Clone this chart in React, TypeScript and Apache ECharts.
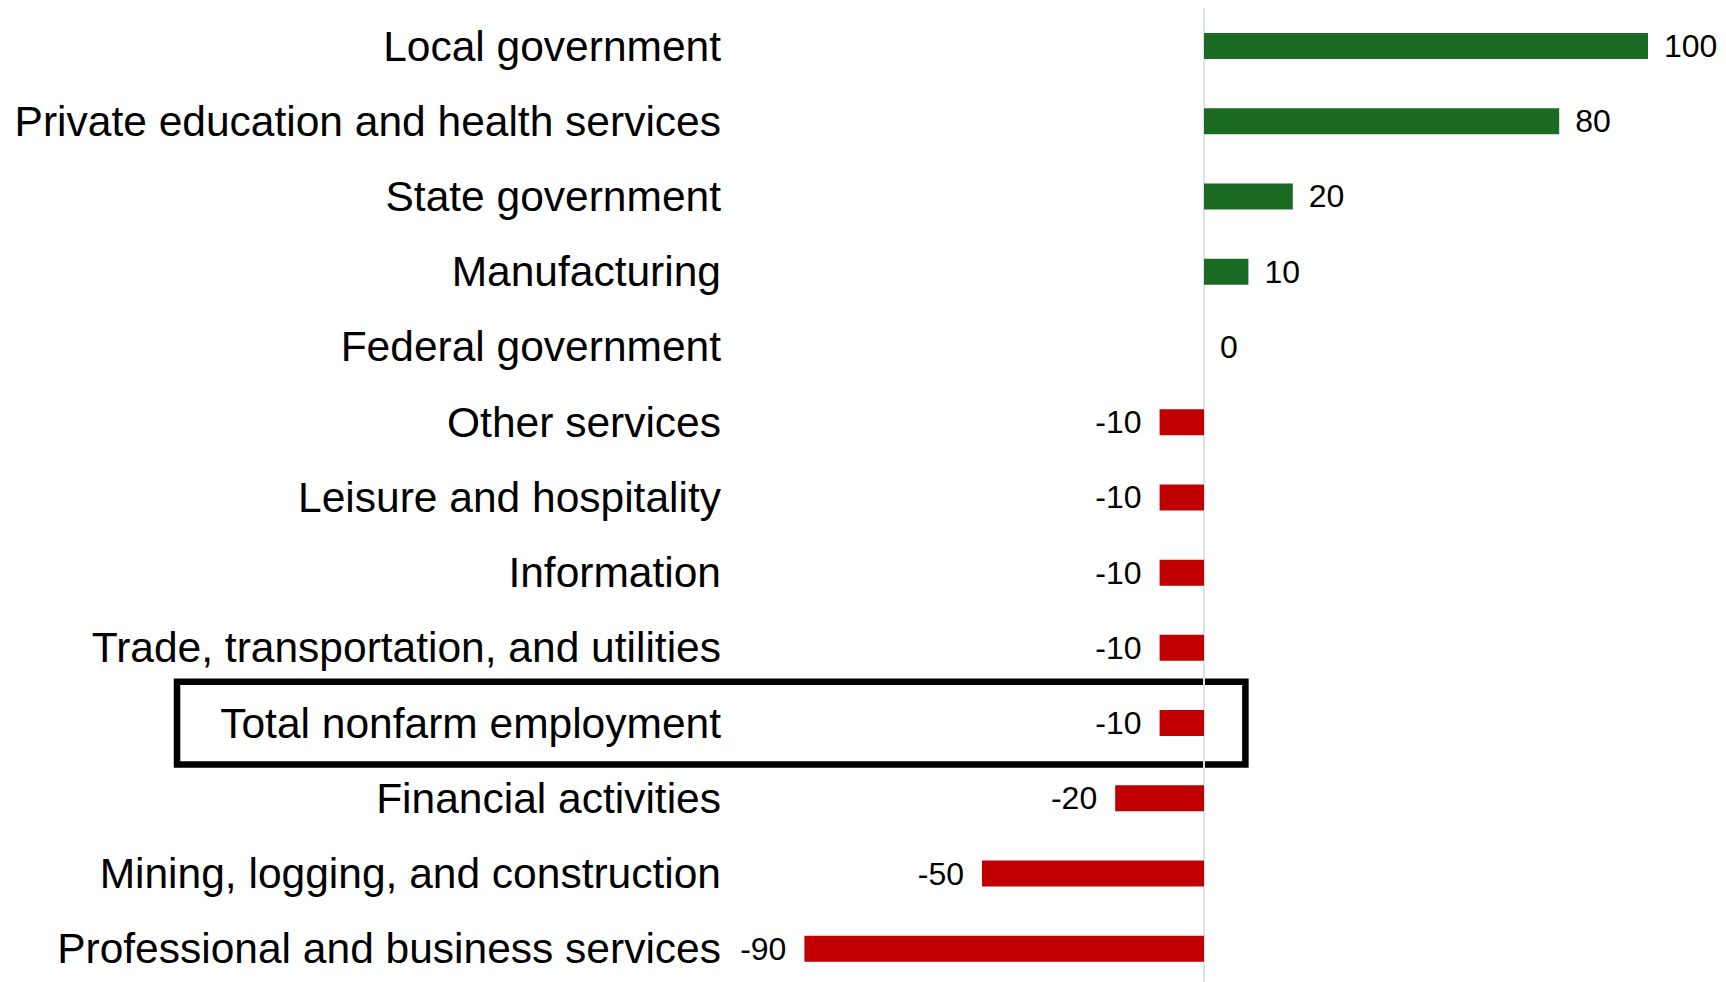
import React, { useEffect, useRef } from "react";
import * as echarts from "echarts";

const categories = [
  "Local government",
  "Private education and health services",
  "State government",
  "Manufacturing",
  "Federal government",
  "Other services",
  "Leisure and hospitality",
  "Information",
  "Trade, transportation, and utilities",
  "Total nonfarm employment",
  "Financial activities",
  "Mining, logging, and construction",
  "Professional and business services",
];
const values = [100, 80, 20, 10, 0, -10, -10, -10, -10, -10, -20, -50, -90];
const highlighted = "Total nonfarm employment";

const GREEN = "#1b6b25";
const RED = "#c00000";
const FONT = "'Liberation Sans', Arial, sans-serif";

export default function App() {
  const ref = useRef<HTMLDivElement>(null);
  useEffect(() => {
    if (!ref.current) return;
    const chart = echarts.init(ref.current, null, { renderer: "svg" });
    chart.setOption({
      animation: false,
      backgroundColor: "#ffffff",
      grid: { left: 760, right: 78, top: 8.4, height: 978, containLabel: false },
      xAxis: {
        type: "value",
        min: -100,
        max: 100,
        show: false,
        splitLine: { show: false },
      },
      yAxis: {
        type: "category",
        inverse: true,
        data: categories,
        axisLine: { show: true, onZero: true, lineStyle: { color: "#dde1ec", width: 2 } },
        axisTick: { show: false },
        axisLabel: {
          margin: 39,
          fontSize: 42.5,
          color: "#000",
          fontFamily: FONT,
        },
      },
      series: [
        {
          type: "bar",
          barWidth: 26,
          data: values.map((v) => ({
            value: v,
            itemStyle: { color: v >= 0 ? GREEN : RED },
            label: { position: v >= 0 ? "right" : "left", distance: v >= 0 ? 16 : 18 },
          })),
          label: {
            show: true,
            fontSize: 32,
            color: "#000",
            fontFamily: FONT,
          },
        },
      ],
    });
    const idx = categories.indexOf(highlighted);
    const center = chart.convertToPixel({ gridIndex: 0 }, [10, idx]) as number[];
    const top = chart.convertToPixel({ gridIndex: 0 }, [0, idx - 0.5]) as number[];
    const bot = chart.convertToPixel({ gridIndex: 0 }, [0, idx + 0.5]) as number[];
    const rowH = Math.abs(bot[1] - top[1]);
    const h = rowH * 1.1;
    const left = 177;
    chart.setOption({
      graphic: [
        {
          type: "rect",
          shape: { x: left, y: center[1] - h / 2, width: center[0] - 3 - left, height: h },
          style: { fill: "none", stroke: "#000", lineWidth: 6.5 },
        },
      ],
    });
    return () => chart.dispose();
  }, []);
  return (
    <div
      style={{ position: "absolute", left: 0, top: 0, width: 1726, height: 982, overflow: "hidden" }}
    >
      <div ref={ref} style={{ width: 1726, height: 992 }} />
    </div>
  );
}
